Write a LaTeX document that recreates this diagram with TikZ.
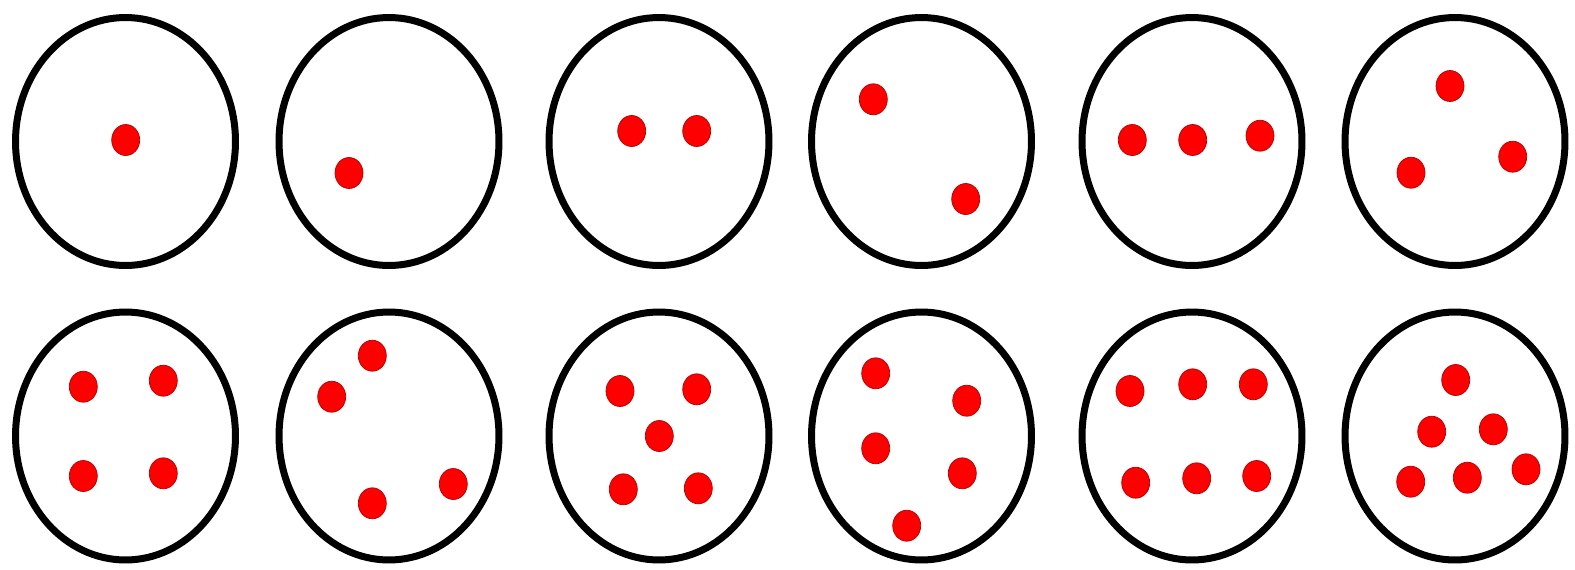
\documentclass[tikz,border=0pt]{standalone}
\usepackage{tikz}
\begin{document}
\begin{tikzpicture}[
    x=0.02cm, y=-0.02cm,
    ring/.style={draw=black, line width=0.14cm, x radius=2.2cm, y radius=2.48cm},
    dot/.style={fill=red, draw=red!70!black, line width=0.4pt, x radius=0.28cm, y radius=0.31cm}
  ]
  \useasboundingbox (0,0) rectangle (1575,569);

  \draw[ring] (125.5,141.5) ellipse [];
  \draw[ring] (389,141.5) ellipse [];
  \draw[ring] (659,141.5) ellipse [];
  \draw[ring] (921.5,141.5) ellipse [];
  \draw[ring] (1192,141.5) ellipse [];
  \draw[ring] (1455,141.5) ellipse [];
  \draw[ring] (125.5,436) ellipse [];
  \draw[ring] (389,436) ellipse [];
  \draw[ring] (659,436) ellipse [];
  \draw[ring] (921.5,436) ellipse [];
  \draw[ring] (1192,436) ellipse [];
  \draw[ring] (1455,436) ellipse [];

  \filldraw[dot] (125.7,140) ellipse [];

  \filldraw[dot] (349,173) ellipse [];

  \filldraw[dot] (631.7,131) ellipse [];
  \filldraw[dot] (696.7,131) ellipse [];

  \filldraw[dot] (873.3,99.3) ellipse [];
  \filldraw[dot] (965.7,199) ellipse [];

  \filldraw[dot] (1132.3,140) ellipse [];
  \filldraw[dot] (1192.7,140) ellipse [];
  \filldraw[dot] (1260,135.7) ellipse [];

  \filldraw[dot] (1450,86) ellipse [];
  \filldraw[dot] (1411,172.7) ellipse [];
  \filldraw[dot] (1512.7,156.7) ellipse [];

  \filldraw[dot] (83.3,386.7) ellipse [];
  \filldraw[dot] (163.3,380.7) ellipse [];
  \filldraw[dot] (83.3,476) ellipse [];
  \filldraw[dot] (163.3,473.3) ellipse [];

  \filldraw[dot] (372.3,355.7) ellipse [];
  \filldraw[dot] (331.7,396.7) ellipse [];
  \filldraw[dot] (372.3,503.3) ellipse [];
  \filldraw[dot] (453.3,484) ellipse [];

  \filldraw[dot] (620,391) ellipse [];
  \filldraw[dot] (696.7,389.3) ellipse [];
  \filldraw[dot] (659.3,436) ellipse [];
  \filldraw[dot] (623.3,489.3) ellipse [];
  \filldraw[dot] (698.3,488.3) ellipse [];

  \filldraw[dot] (875.7,373.3) ellipse [];
  \filldraw[dot] (966.7,400.7) ellipse [];
  \filldraw[dot] (875.7,448.3) ellipse [];
  \filldraw[dot] (962.3,473.3) ellipse [];
  \filldraw[dot] (906.7,525.7) ellipse [];

  \filldraw[dot] (1130,391) ellipse [];
  \filldraw[dot] (1192.7,384.3) ellipse [];
  \filldraw[dot] (1253.3,384.3) ellipse [];
  \filldraw[dot] (1135.7,482.7) ellipse [];
  \filldraw[dot] (1196.7,478.3) ellipse [];
  \filldraw[dot] (1256.7,476) ellipse [];

  \filldraw[dot] (1455.7,380) ellipse [];
  \filldraw[dot] (1431.7,431.7) ellipse [];
  \filldraw[dot] (1493.3,429.3) ellipse [];
  \filldraw[dot] (1410.7,481.7) ellipse [];
  \filldraw[dot] (1467.3,477.7) ellipse [];
  \filldraw[dot] (1526,469.3) ellipse [];
\end{tikzpicture}
\end{document}
